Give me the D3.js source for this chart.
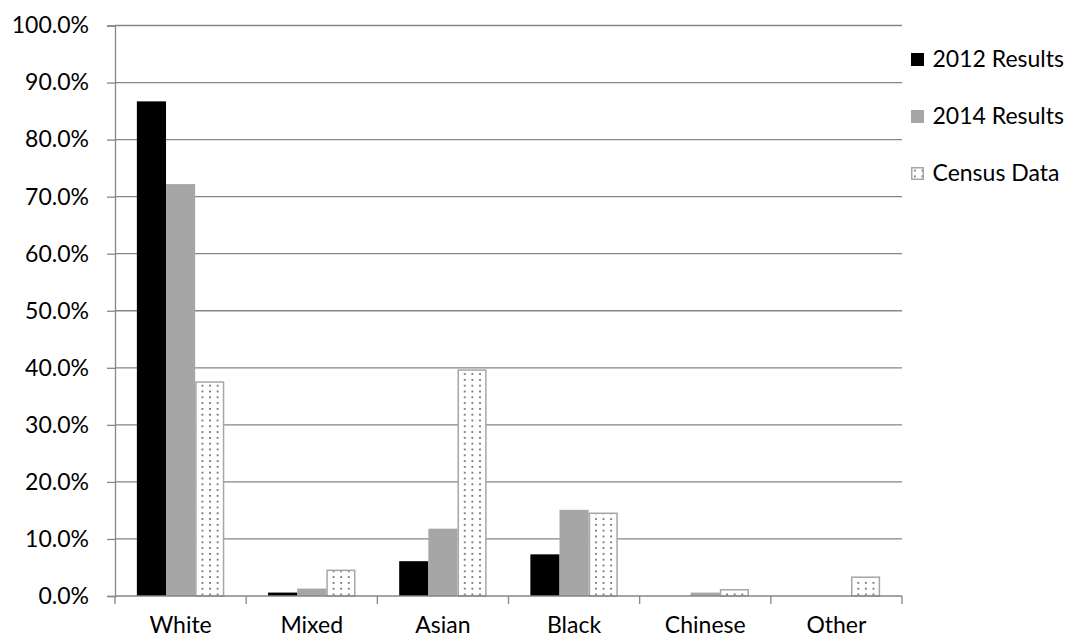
<!DOCTYPE html>
<html>
<head>
<meta charset="utf-8">
<script src="https://cdn.jsdelivr.net/npm/d3@7"></script>
<style>
  html, body { margin: 0; padding: 0; background: #fff; }
  svg { display: block; font-family: Lato, "Open Sans", sans-serif; }
</style>
</head>
<body>
<svg id="chart" width="1071" height="639"></svg>
<script>
// Ethnicity breakdown: survey results vs census (shares of total)
const categories = ["White", "Mixed", "Asian", "Black", "Chinese", "Other"];
const seriesNames = ["2012 Results", "2014 Results", "Census Data"];
const results2012 = [0.867, 0.006, 0.061, 0.073, 0.0, 0.0];
const results2014 = [0.722, 0.013, 0.118, 0.151, 0.006, 0.0];
const censusData  = [0.375, 0.045, 0.396, 0.145, 0.011, 0.033];
const yTicks = [0, 0.1, 0.2, 0.3, 0.4, 0.5, 0.6, 0.7, 0.8, 0.9, 1.0];

const seriesValues = [results2012, results2014, censusData];

const svg = d3.select("#chart");
const plotLeft = 115, plotRight = 902, plotTop = 25.5, plotBottom = 596;
const axisColor = "#868686";
const fontSize = "23px";

// dotted fill used for the census bars
const defs = svg.append("defs");
const pat = defs.append("pattern")
  .attr("id", "dots")
  .attr("patternUnits", "userSpaceOnUse")
  .attr("width", 7.6).attr("height", 5.8);
pat.append("rect").attr("width", 7.6).attr("height", 5.8).attr("fill", "#fff");
pat.append("rect").attr("x", 3).attr("y", 2).attr("width", 1.7).attr("height", 1.7).attr("fill", "#5e5e5e");

const x0 = d3.scaleBand().domain(categories).range([plotLeft, plotRight]).padding(0);
const step = x0.step();
const gap = step * 0.75 / 4.5;
const x1 = d3.scaleBand().domain(seriesNames).range([gap, step - gap]).padding(0);
const y = d3.scaleLinear().domain([0, 1]).range([plotBottom, plotTop]);

// horizontal gridlines
svg.append("g").selectAll("line").data(yTicks.filter(d => d > 0)).join("line")
  .attr("x1", plotLeft).attr("x2", plotRight)
  .attr("y1", d => y(d)).attr("y2", d => y(d))
  .attr("stroke", axisColor).attr("stroke-width", 1.3);

// y axis
const yAxis = svg.append("g").attr("transform", `translate(${plotLeft},0)`)
  .call(d3.axisLeft(y).tickValues(yTicks).tickFormat(d3.format(".1%")).tickSize(8).tickPadding(18));
yAxis.select(".domain").attr("stroke", axisColor).attr("stroke-width", 1.3);
yAxis.selectAll(".tick line").attr("stroke", axisColor).attr("stroke-width", 1.3);
yAxis.selectAll(".tick text").attr("fill", "#000").style("font-size", fontSize).style("font-family", "Lato, sans-serif");

// bars
const fills = ["#000000", "#a6a6a6", "url(#dots)"];
const groups = svg.append("g").selectAll("g").data(categories).join("g")
  .attr("transform", d => `translate(${x0(d)},0)`);
groups.selectAll("rect")
  .data((c, i) => seriesNames.map((s, k) => ({ s, k, v: seriesValues[k][i] })).filter(d => d.v > 0))
  .join("rect")
  .attr("x", d => x1(d.s) + (d.k === 2 ? 0.75 : 0))
  .attr("width", d => x1.bandwidth() - (d.k === 2 ? 1.5 : 0))
  .attr("y", d => y(d.v))
  .attr("height", d => plotBottom - y(d.v))
  .attr("fill", d => fills[d.k])
  .attr("stroke", d => d.k === 2 ? "#a6a6a6" : "none")
  .attr("stroke-width", 1.5);

// x axis line with boundary ticks
svg.append("line").attr("x1", plotLeft).attr("x2", plotRight).attr("y1", plotBottom).attr("y2", plotBottom)
  .attr("stroke", axisColor).attr("stroke-width", 1.3);
const bounds = categories.map(c => x0(c)).concat([plotRight]);
svg.append("g").selectAll("line").data(bounds).join("line")
  .attr("x1", d => d).attr("x2", d => d).attr("y1", plotBottom).attr("y2", plotBottom + 8)
  .attr("stroke", axisColor).attr("stroke-width", 1.3);

// category labels
svg.append("g").selectAll("text").data(categories).join("text")
  .attr("x", d => x0(d) + step / 2).attr("y", 633)
  .attr("text-anchor", "middle").style("font-size", fontSize).attr("fill", "#000")
  .text(d => d);

// legend
const legend = svg.append("g").selectAll("g").data(seriesNames).join("g")
  .attr("transform", (d, i) => `translate(911,${59.5 + i * 57})`);
legend.append("rect")
  .attr("x", (d, i) => i === 2 ? 0.75 : 0).attr("y", (d, i) => i === 2 ? -5.75 : -6.5)
  .attr("width", (d, i) => i === 2 ? 11.5 : 13).attr("height", (d, i) => i === 2 ? 11.5 : 13)
  .attr("fill", (d, i) => fills[i])
  .attr("stroke", (d, i) => i === 2 ? "#a6a6a6" : "none").attr("stroke-width", 1.5);
legend.append("text").attr("x", 21.5).attr("y", 7.5)
  .style("font-size", fontSize).attr("fill", "#000").text(d => d);
</script>
</body>
</html>
